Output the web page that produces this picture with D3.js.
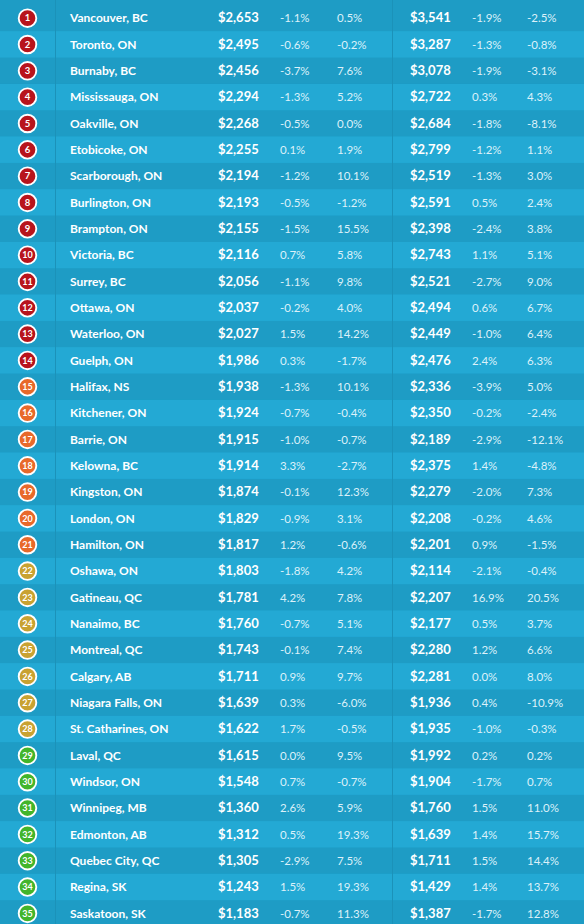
<!DOCTYPE html>
<html>
<head>
<meta charset="utf-8">
<script src="https://cdn.jsdelivr.net/npm/d3@7"></script>
<style>
  html, body { margin: 0; padding: 0; background: #22a6d0; }
  svg { display: block; }
</style>
</head>
<body>
<svg id="chart" width="584" height="924"></svg>
<script>
const cities = ["Vancouver, BC","Toronto, ON","Burnaby, BC","Mississauga, ON","Oakville, ON","Etobicoke, ON","Scarborough, ON","Burlington, ON","Brampton, ON","Victoria, BC","Surrey, BC","Ottawa, ON","Waterloo, ON","Guelph, ON","Halifax, NS","Kitchener, ON","Barrie, ON","Kelowna, BC","Kingston, ON","London, ON","Hamilton, ON","Oshawa, ON","Gatineau, QC","Nanaimo, BC","Montreal, QC","Calgary, AB","Niagara Falls, ON","St. Catharines, ON","Laval, QC","Windsor, ON","Winnipeg, MB","Edmonton, AB","Quebec City, QC","Regina, SK","Saskatoon, SK"];
const price1 = [2653,2495,2456,2294,2268,2255,2194,2193,2155,2116,2056,2037,2027,1986,1938,1924,1915,1914,1874,1829,1817,1803,1781,1760,1743,1711,1639,1622,1615,1548,1360,1312,1305,1243,1183];
const mom1 = [-1.1,-0.6,-3.7,-1.3,-0.5,0.1,-1.2,-0.5,-1.5,0.7,-1.1,-0.2,1.5,0.3,-1.3,-0.7,-1.0,3.3,-0.1,-0.9,1.2,-1.8,4.2,-0.7,-0.1,0.9,0.3,1.7,0.0,0.7,2.6,0.5,-2.9,1.5,-0.7];
const yoy1 = [0.5,-0.2,7.6,5.2,0.0,1.9,10.1,-1.2,15.5,5.8,9.8,4.0,14.2,-1.7,10.1,-0.4,-0.7,-2.7,12.3,3.1,-0.6,4.2,7.8,5.1,7.4,9.7,-6.0,-0.5,9.5,-0.7,5.9,19.3,7.5,19.3,11.3];
const price2 = [3541,3287,3078,2722,2684,2799,2519,2591,2398,2743,2521,2494,2449,2476,2336,2350,2189,2375,2279,2208,2201,2114,2207,2177,2280,2281,1936,1935,1992,1904,1760,1639,1711,1429,1387];
const mom2 = [-1.9,-1.3,-1.9,0.3,-1.8,-1.2,-1.3,0.5,-2.4,1.1,-2.7,0.6,-1.0,2.4,-3.9,-0.2,-2.9,1.4,-2.0,-0.2,0.9,-2.1,16.9,0.5,1.2,0.0,0.4,-1.0,0.2,-1.7,1.5,1.4,1.5,1.4,-1.7];
const yoy2 = [-2.5,-0.8,-3.1,4.3,-8.1,1.1,3.0,2.4,3.8,5.1,9.0,6.7,6.4,6.3,5.0,-2.4,-12.1,-4.8,7.3,4.6,-1.5,-0.4,20.5,3.7,6.6,8.0,-10.9,-0.3,0.2,0.7,11.0,15.7,14.4,13.7,12.8];
const ranks = d3.range(1, 36);

const W = 584, H = 924;
const svg = d3.select("#chart");
const loc = d3.formatLocale({decimal: ".", thousands: ",", grouping: [3], currency: ["$", ""], minus: "-"});
const fmtPrice = loc.format("$,.0f");
const fmtPct = v => loc.format(".1f")(v) + "%";

const y = d3.scaleBand().domain(ranks).range([5, 5 + 35 * 26.33]).padding(0);

const badgeColor = d3.scaleThreshold()
  .domain([15, 22, 29])
  .range(["#b8141c", "#e8692a", "#c9a231", "#43b52b"]);

const rows = svg.selectAll("g.row").data(ranks).join("g")
  .attr("class", "row")
  .attr("transform", r => `translate(0,${y(r)})`);

rows.append("rect")
  .attr("x", 0)
  .attr("y", r => r === 1 ? -y(1) : 0)
  .attr("width", W)
  .attr("height", r => r === 1 ? y.bandwidth() + y(1) : y.bandwidth())
  .attr("fill", r => r % 2 === 1 ? "#1e9cc5" : "#23a9d4");

[55, 392].forEach(x => {
  svg.append("line").attr("x1", x + 0.5).attr("x2", x + 0.5).attr("y1", 0).attr("y2", H)
    .attr("stroke", "#1b92b9").attr("stroke-width", 1);
});

const cy = y.bandwidth() / 2;

rows.append("circle")
  .attr("cx", 27.5).attr("cy", cy)
  .attr("r", 8.8)
  .attr("fill", r => badgeColor(r))
  .attr("stroke", "#ffffff").attr("stroke-width", 1.9);

rows.append("text")
  .attr("x", 27.5).attr("y", cy + 3.3)
  .attr("text-anchor", "middle")
  .attr("font-family", "Lato, sans-serif").attr("font-weight", 700)
  .attr("font-size", r => r >= 10 ? 9 : 9.5)
  .attr("fill", "#ffffff")
  .text(r => r);

const bold = (sel, x, fn, size) => sel.append("text")
  .attr("x", x).attr("y", cy + 4.3)
  .attr("font-family", "Lato, sans-serif").attr("font-weight", 700)
  .attr("font-size", size).attr("fill", "#ffffff")
  .text(fn);
const light = (sel, x, fn) => sel.append("text")
  .attr("x", x).attr("y", cy + 4.3)
  .attr("font-family", "Lato, sans-serif").attr("font-weight", 400)
  .attr("font-size", 11.5).attr("fill", "#dcf1fa")
  .text(fn);

bold(rows, 70, r => cities[r - 1], 12);
bold(rows, 218, r => fmtPrice(price1[r - 1]), 13);
light(rows, 280, r => fmtPct(mom1[r - 1]));
light(rows, 337, r => fmtPct(yoy1[r - 1]));
bold(rows, 410, r => fmtPrice(price2[r - 1]), 13);
light(rows, 472, r => fmtPct(mom2[r - 1]));
light(rows, 527, r => fmtPct(yoy2[r - 1]));
</script>
</body>
</html>
